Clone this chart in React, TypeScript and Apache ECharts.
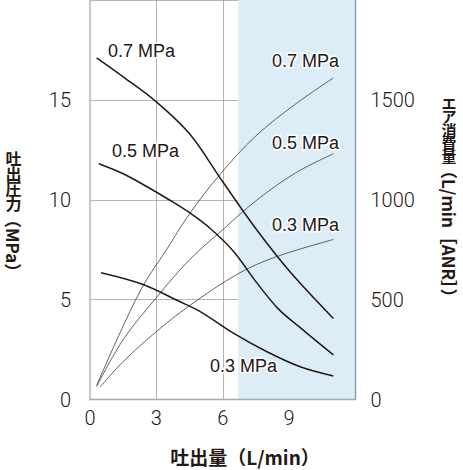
import React, { useEffect, useRef } from "react";
import * as echarts from "echarts";

// Discharge pressure curves [flow L/min, pressure]
const pressure07 = [[0.3, 17.1], [1.5, 16.15], [3.0, 14.9], [4.5, 13.3], [6.0, 10.9], [7.5, 8.55], [9.0, 6.45], [11, 4.06]];
const pressure05 = [[0.4, 11.8], [1.5, 11.3], [2.5, 10.7], [3.5, 10.05], [4.5, 9.35], [5.5, 8.5], [6.5, 7.4], [7.5, 5.9], [8.5, 4.55], [9.5, 3.6], [11, 2.23]];
const pressure03 = [[0.5, 6.35], [2.4, 5.76], [4.0, 4.93], [5.0, 4.39], [6.5, 3.31], [8.0, 2.39], [9.5, 1.64], [11, 1.18]];

// Air consumption curves [flow L/min, L/min ANR]
const flow07 = [[0.3, 70], [1.3, 320], [2.4, 570], [3.4, 740], [4.5, 930], [5.9, 1130], [7.5, 1320], [9.3, 1480], [11, 1610]];
const flow05 = [[0.3, 65], [1.5, 300], [3.0, 510], [4.5, 700], [6.0, 850], [7.5, 995], [9.3, 1135], [11, 1230]];
const flow03 = [[0.45, 62], [1.5, 190], [3.0, 340], [4.5, 470], [6.7, 630], [8.4, 714], [11, 801]];

const shadedRange = [6.7, 12];

const xTicks = { min: 0, max: 12, interval: 3 };
const yLeftTicks = { min: 0, max: 20, interval: 5 };
const yRightTicks = { min: 0, max: 2000, interval: 500 };

const curveLabels = ["0.7 MPa", "0.5 MPa", "0.3 MPa"];

const xTitle = "吐出量（L/min）";
const yLeftTitleCJK = ["吐", "出", "圧", "力"];
const yLeftTitleLatin = "（MPa）";
const yRightTitleCJK = ["エ", "ア", "消", "費", "量"];
const yRightTitleLatin = "（L/min［ANR］）";

const INK = "#231815";
const tickFont = { color: INK, fontSize: 20, fontFamily: "Roboto, 'Liberation Sans', sans-serif", fontWeight: 300 };
const titleFont = "'Noto Sans CJK JP', sans-serif";

export default function App() {
  const ref = useRef<HTMLDivElement>(null);
  useEffect(() => {
    if (!ref.current) return;
    const chart = echarts.init(ref.current, null, { renderer: "svg" });
    const labelStyle = (text: string, x: number, y: number, align: string) => ({
      type: "text",
      x,
      y,
      z: 100,
      style: {
        text,
        fill: INK,
        font: "18px 'Liberation Sans', Arial, sans-serif",
        align,
        verticalAlign: "middle",
        stroke: "#fff",
        lineWidth: 3,
      },
    });
    const stack = (chars: string[], x: number, yTop: number, step: number, size: number) => ({
      type: "text",
      x,
      y: yTop,
      style: {
        text: chars.join("\n"),
        fill: INK,
        font: `bold ${size}px ${titleFont}`,
        lineHeight: step,
        align: "center",
        verticalAlign: "top",
      },
    });
    const pressLine = { color: INK, width: 1.5 };
    const flowLine = { color: "#3e3a39", width: 0.8 };
    const lineCommon = { type: "line", smooth: 0.35, showSymbol: false };
    const option: any = {
      animation: false,
      grid: { left: 90, right: 107.5, top: 0, bottom: 70.5 },
      xAxis: {
        type: "value",
        ...xTicks,
        z: 1,
        axisLine: { show: true, lineStyle: { color: "#a7a8a9", width: 1.3 } },
        axisTick: { show: false },
        splitLine: { show: true, lineStyle: { color: "#a0a1a2", width: 0.8 } },
        axisLabel: { ...tickFont, margin: 8, showMaxLabel: false },
      },
      yAxis: [
        {
          type: "value",
          ...yLeftTicks,
          z: 1,
          axisLine: { show: true, lineStyle: { color: "#c9caca", width: 2.2 } },
          axisTick: { show: false },
          splitLine: { show: true, lineStyle: { color: "#a0a1a2", width: 0.8 } },
          axisLabel: { ...tickFont, margin: 19, showMaxLabel: false },
        },
        {
          type: "value",
          ...yRightTicks,
          position: "right",
          z: 1,
          axisLine: { show: true, lineStyle: { color: "#8c8f94", width: 1.3 } },
          axisTick: { show: false },
          splitLine: { show: false },
          axisLabel: { ...tickFont, margin: 15, showMaxLabel: false, formatter: (v: number) => String(v) },
        },
      ],
      series: [
        {
          type: "line",
          data: [],
          z: 0,
          silent: true,
          markArea: {
            silent: true,
            itemStyle: { color: "#dcedf8" },
            data: [[{ xAxis: shadedRange[0] }, { xAxis: shadedRange[1] }]],
          },
        },
        { ...lineCommon, name: "p07", yAxisIndex: 0, data: pressure07, lineStyle: pressLine, z: 3 },
        { ...lineCommon, name: "p05", yAxisIndex: 0, data: pressure05, lineStyle: pressLine, z: 3 },
        { ...lineCommon, name: "p03", yAxisIndex: 0, data: pressure03, lineStyle: pressLine, z: 3 },
        { ...lineCommon, name: "f07", yAxisIndex: 1, data: flow07, lineStyle: flowLine, z: 2 },
        { ...lineCommon, name: "f05", yAxisIndex: 1, data: flow05, lineStyle: flowLine, z: 2 },
        { ...lineCommon, name: "f03", yAxisIndex: 1, data: flow03, lineStyle: flowLine, z: 2 },
      ],
      graphic: [
        labelStyle(curveLabels[0], 108, 51, "left"),
        labelStyle(curveLabels[1], 112, 151, "left"),
        labelStyle(curveLabels[0], 339, 61, "right"),
        labelStyle(curveLabels[1], 339, 142.5, "right"),
        labelStyle(curveLabels[2], 339, 225, "right"),
        labelStyle(curveLabels[2], 210, 366, "left"),
        {
          type: "text",
          x: 245,
          y: 456.5,
          style: { text: xTitle, fill: INK, font: `bold 19px ${titleFont}`, align: "center", verticalAlign: "middle" },
        },
        stack(yLeftTitleCJK, 13.5, 150, 15, 16),
        {
          type: "text",
          x: 13.5,
          y: 211,
          rotation: -Math.PI / 2,
          style: { text: yLeftTitleLatin, fill: INK, font: `bold 17px ${titleFont}`, align: "left", verticalAlign: "middle" },
        },
        stack(yRightTitleCJK, 449, 96, 13.3, 15),
        {
          type: "text",
          x: 449,
          y: 162,
          rotation: -Math.PI / 2,
          style: { text: yRightTitleLatin, fill: INK, font: `bold 17px ${titleFont}`, align: "left", verticalAlign: "middle" },
        },
      ],
    };
    chart.setOption(option);
    return () => chart.dispose();
  }, []);
  return (
    <div
      ref={ref}
      style={{ position: "fixed", left: 0, top: 0, width: 463, height: 470, background: "#fff" }}
    />
  );
}
